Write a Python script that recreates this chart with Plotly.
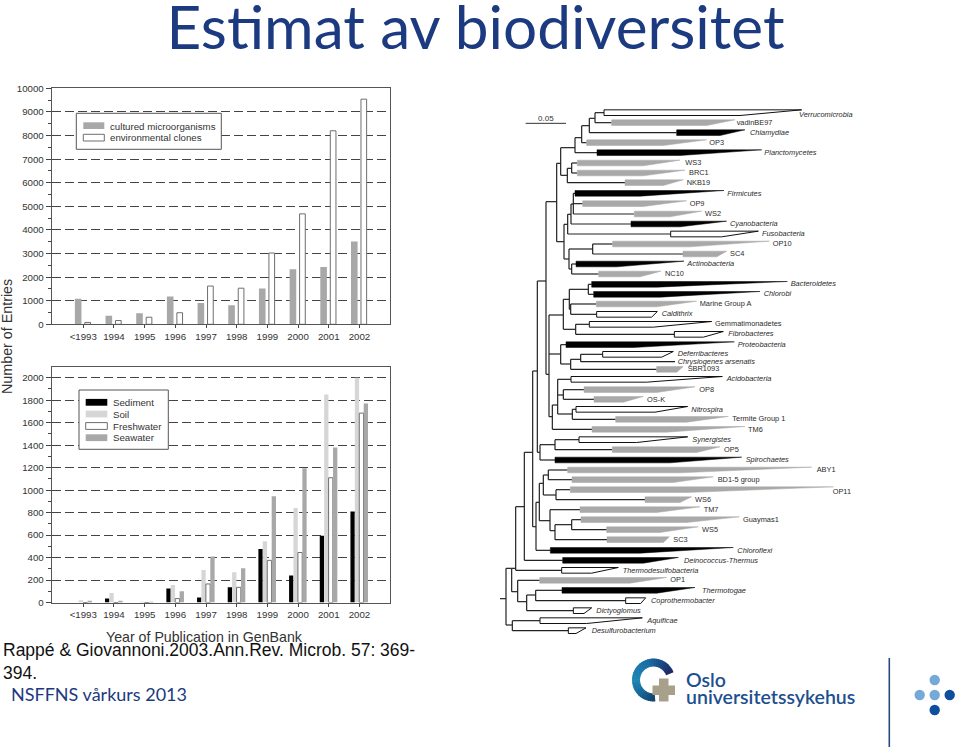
import math
import plotly.graph_objects as go

W, H = 960, 747

# ---------- bar chart data ----------
years = ["<1993", "1994", "1995", "1996", "1997", "1998", "1999", "2000", "2001", "2002"]
cultured = [1080, 360, 470, 1180, 900, 810, 1520, 2330, 2430, 3510]
clones = [80, 160, 300, 490, 1620, 1530, 3020, 4680, 8200, 9540]
sediment = [0, 35, 0, 125, 45, 135, 475, 240, 595, 810]
soil = [20, 85, 5, 155, 290, 270, 545, 840, 1850, 2000]
freshwater = [0, 0, 0, 35, 165, 135, 375, 445, 1110, 1685]
seawater = [10, 10, 5, 100, 410, 305, 945, 1195, 1380, 1770]

# ---------- tree data: clade, kind, wedge start, knee, tip, row ----------
clades = [
    ("Verrucomicrobia", "w", 312, 720, 905, 38), ("vadinBE97", "g", 335, 620, 705, 68),
    ("Chlamydiae", "b", 530, 660, 735, 98), ("OP3", "g", 260, 490, 620, 128),
    ("Planctomycetes", "b", 291, 540, 785, 158), ("WS3", "g", 232, 430, 540, 189),
    ("BRC1", "g", 232, 430, 555, 219), ("NKB19", "g", 375, 490, 550, 248),
    ("Firmicutes", "b", 225, 420, 672, 280), ("OP9", "g", 248, 430, 560, 311),
    ("WS2", "g", 403, 510, 605, 342), ("Cyanobacteria", "b", 393, 540, 680, 372),
    ("Fusobacteria", "w", 512, 665, 775, 402), ("OP10", "g", 338, 570, 808, 432),
    ("SC4", "g", 549, 650, 680, 462), ("Actinobacteria", "b", 228, 350, 552, 492),
    ("NC10", "g", 296, 420, 483, 522), ("Bacteroidetes", "b", 275, 470, 862, 553),
    ("Chlorobi", "b", 281, 480, 780, 583), ("Marine Group A", "g", 289, 470, 590, 612),
    ("Caldithrix", "w", 290, 455, 472, 643), ("Gemmatimonadetes", "w", 268, 460, 635, 673),
    ("Fibrobacteres", "w", 523, 610, 670, 703), ("Proteobacteria", "b", 198, 400, 703, 734),
    ("Deferribacteres", "w", 308, 485, 520, 763), ("SBR1093", "g", 470, 530, 550, 808),
    ("Acidobacteria", "w", 213, 440, 667, 838), ("OP8", "g", 252, 470, 585, 869),
    ("OS-K", "g", 282, 370, 430, 898), ("Nitrospira", "w", 228, 465, 563, 928),
    ("Termite Group 1", "g", 347, 560, 685, 958), ("TM6", "g", 276, 500, 735, 988),
    ("Synergistes", "w", 237, 410, 563, 1019), ("OP5", "g", 337, 590, 660, 1049),
    ("Spirochaetes", "b", 165, 510, 725, 1080), ("ABY1", "g", 203, 540, 935, 1110),
    ("BD1-5 group", "g", 216, 520, 640, 1139), ("OP11", "g", 211, 560, 1000, 1169),
    ("WS6", "g", 435, 540, 575, 1199), ("TM7", "g", 240, 470, 600, 1229),
    ("Guaymas1", "g", 243, 560, 718, 1259), ("WS5", "g", 320, 480, 595, 1289),
    ("SC3", "g", 321, 490, 508, 1319), ("Chloroflexi", "b", 151, 420, 700, 1351),
    ("Deinococcus-Thermus", "b", 188, 430, 535, 1381), ("Thermodesulfobacteria", "w", 185, 275, 355, 1411),
    ("OP1", "g", 119, 390, 500, 1441), ("Thermotogae", "b", 186, 470, 585, 1471),
    ("Coprothermobacter", "w", 377, 422, 437, 1502), ("Dictyoglomus", "w", 220, 252, 275, 1532),
    ("Aquificae", "w", 120, 260, 427, 1562), ("Desulfurobacterium", "w", 205, 228, 258, 1592),
]
# a clade with a bare branch and no wedge
bare_clade = ("Chrysiogenes arsenatis", 525, 785)

# label anchor: name -> (x, y)
label_pos = {
    "Verrucomicrobia": (897, 45), "vadinBE97": (710, 69), "Chlamydiae": (750, 98), "OP3": (628, 128),
    "Planctomycetes": (793, 159), "WS3": (556, 188), "BRC1": (567, 218), "NKB19": (560, 248),
    "Firmicutes": (682, 281), "OP9": (569, 312), "WS2": (615, 343), "Cyanobacteria": (690, 372),
    "Fusobacteria": (786, 402), "OP10": (818, 431), "SC4": (690, 461), "Actinobacteria": (562, 491),
    "NC10": (495, 521), "Bacteroidetes": (872, 553), "Chlorobi": (791, 583), "Marine Group A": (599, 612),
    "Caldithrix": (485, 643), "Gemmatimonadetes": (645, 673), "Fibrobacteres": (685, 703),
    "Proteobacteria": (713, 734), "Deferribacteres": (533, 763), "Chrysiogenes arsenatis": (533, 785),
    "SBR1093": (563, 808), "Acidobacteria": (680, 838), "OP8": (598, 869), "OS-K": (441, 899),
    "Nitrospira": (574, 929), "Termite Group 1": (697, 958), "TM6": (744, 989), "Synergistes": (577, 1019),
    "OP5": (672, 1049), "Spirochaetes": (737, 1080), "ABY1": (950, 1109), "BD1-5 group": (653, 1139),
    "OP11": (998, 1177), "WS6": (585, 1199), "TM7": (611, 1229), "Guaymas1": (729, 1259),
    "WS5": (606, 1289), "SC3": (520, 1321), "Chloroflexi": (712, 1352), "Deinococcus-Thermus": (552, 1382),
    "Thermodesulfobacteria": (368, 1412), "OP1": (511, 1441), "Thermotogae": (606, 1472),
    "Coprothermobacter": (453, 1502), "Dictyoglomus": (289, 1532), "Aquificae": (442, 1562),
    "Desulfurobacterium": (275, 1592),
}
roman_names = {
    "vadinBE97", "OP3", "WS3", "BRC1", "NKB19", "OP9", "WS2", "OP10", "SC4", "NC10", "Marine Group A",
    "Gemmatimonadetes", "SBR1093", "OP8", "OS-K", "Termite Group 1", "TM6", "OP5", "ABY1", "BD1-5 group",
    "OP11", "WS6", "TM7", "Guaymas1", "WS5", "SC3", "OP1",
}

# tree: (node x, node y, children); a string child is a clade name
tree = (0, 1496, [(18, 1496, [
    (35, 1405, [
        (47, 1405, [
            (73, 1220, [
                (98, 1057, [
                    (112, 813, [
                        (138, 543, [
                            (170, 305, [
                                (182, 190, [
                                    (225, 143, [
                                        (245, 113, [
                                            (268, 77, [(285, 55, ["Verrucomicrobia", "vadinBE97"]), "Chlamydiae"]),
                                            "OP3"]),
                                        "Planctomycetes"]),
                                    (202, 226, [(215, 205, ["WS3", "BRC1"]), "NKB19"]),
                                ]),
                                (192, 425, [
                                    (203, 373, [(213, 343, [(220, 312, ["Firmicutes", "OP9", "WS2"]), "Cyanobacteria"]),
                                                "Fusobacteria"]),
                                    (207, 477, [(278, 447, ["OP10", "SC4"]), (215, 507, ["Actinobacteria", "NC10"])]),
                                ]),
                            ]),
                            (147, 823, [
                                (190, 645, [
                                    (208, 598, [(265, 568, ["Bacteroidetes", "Chlorobi"]),
                                                (212, 628, ["Marine Group A", "Caldithrix"])]),
                                    (227, 688, ["Gemmatimonadetes", "Fibrobacteres"]),
                                ]),
                                (182, 762, ["Proteobacteria",
                                            (212, 792, [(242, 778, ["Deferribacteres", "Chrysiogenes arsenatis"]),
                                                        "SBR1093"])]),
                                (157, 950, [
                                    (173, 915, ["Acidobacteria", (190, 885, ["OP8", "OS-K"]),
                                                (217, 942, ["Nitrospira", "Termite Group 1"])]),
                                    "TM6"]),
                            ]),
                        ]),
                        (120, 1057, [(165, 1034, ["Synergistes", "OP5"]), "Spirochaetes"]),
                    ]),
                    (108, 1280, [
                        (118, 1207, [
                            (130, 1150, [(145, 1125, ["ABY1", "BD1-5 group"]), (168, 1185, ["OP11", "WS6"])]),
                            (150, 1262, ["TM7", (165, 1292, [(215, 1274, ["Guaymas1", "WS5"]), "SC3"])]),
                        ]),
                        "Chloroflexi"]),
                ]),
                "Deinococcus-Thermus"]),
            "Thermodesulfobacteria"]),
        (53, 1475, ["OP1", (80, 1505, [(107, 1485, ["Thermotogae", "Coprothermobacter"]), "Dictyoglomus"])]),
    ]),
    (37, 1575, ["Aquificae", "Desulfurobacterium"]),
])])

scale_bar_x = [77, 198]
scale_bar_y = [70, 70]
scale_bar_label = "0.05"

# ---------- styling ----------
ARIAL = "Liberation Sans, Arial, sans-serif"
GREY_BAR = "#a8a8a8"
OUTLINE = "#6e6e6e"
INK = "#333333"
NAVY = "#1c3a80"


def dom_x(a, b):
    return [a / W, b / W]


def dom_y(top, bottom):
    return [1 - bottom / H, 1 - top / H]


fig = go.Figure()
idx = list(range(len(years)))

fig.add_trace(go.Bar(x=idx, y=cultured, name="cultured microorganisms", xaxis="x", yaxis="y",
                     width=0.215, offset=-0.275, marker=dict(color=GREY_BAR, line=dict(width=0))))
fig.add_trace(go.Bar(x=idx, y=clones, name="environmental clones", xaxis="x", yaxis="y",
                     width=0.185, offset=0.05, marker=dict(color="white", line=dict(color=OUTLINE, width=1))))

for nm, vals, col, ln in [
    ("Sediment", sediment, "#000000", 0), ("Soil", soil, "#d6d6d6", 0),
    ("Freshwater", freshwater, "#ffffff", 1), ("Seawater", seawater, GREY_BAR, 0),
]:
    off = {"Sediment": -0.293, "Soil": -0.15, "Freshwater": -0.005, "Seawater": 0.14}[nm]
    fig.add_trace(go.Bar(x=idx, y=vals, name=nm, xaxis="x2", yaxis="y2", width=0.14, offset=off,
                         marker=dict(color=col, line=dict(color=OUTLINE, width=ln))))

# tree branches
row_of = {c[0]: (c[2], c[5]) for c in clades}
row_of[bare_clade[0]] = (bare_clade[1], bare_clade[2])
bx, by = [], []


def walk(node, parent_x):
    if isinstance(node, str):
        x, y = row_of[node]
        bx.extend([parent_x, x, None])
        by.extend([y, y, None])
        return y
    x, y, kids = node
    if parent_x is not None:
        bx.extend([parent_x, x, None])
        by.extend([y, y, None])
    ys = [walk(k, x) for k in kids] + [y]
    bx.extend([x, x, None])
    by.extend([min(ys), max(ys), None])
    return y


walk(tree, None)
fig.add_trace(go.Scatter(x=bx, y=by, mode="lines", xaxis="x3", yaxis="y3", name="branches", showlegend=False,
                         line=dict(color="#222222", width=1.2), hoverinfo="skip"))

for kind, fillc, linec, lw in [("g", "#a9a9a9", "#a9a9a9", 0.5), ("b", "#000000", "#000000", 0.5),
                               ("w", "#ffffff", "#111111", 1)]:
    wx, wy = [], []
    for nm, k, x0, knee, tip, row in clades:
        if k == kind:
            wx += [x0, tip, knee, x0, x0, None]
            wy += [row - 8.5, row - 8.5, row + 8.5, row + 8.5, row - 8.5, None]
    fig.add_trace(go.Scatter(x=wx, y=wy, mode="lines", fill="toself", fillcolor=fillc, xaxis="x3", yaxis="y3",
                             line=dict(color=linec, width=lw), showlegend=False, hoverinfo="skip", name=kind))

fig.add_trace(go.Scatter(x=scale_bar_x, y=scale_bar_y, mode="lines", xaxis="x3", yaxis="y3", showlegend=False,
                         line=dict(color="#333333", width=1), hoverinfo="skip", name="scale"))

names = list(label_pos)
fig.add_trace(go.Scatter(
    x=[label_pos[n][0] for n in names], y=[label_pos[n][1] for n in names],
    text=[n if n in roman_names else f"<i>{n}</i>" for n in names],
    mode="text", textposition="middle right", xaxis="x3", yaxis="y3", showlegend=False, hoverinfo="skip",
    cliponaxis=False, textfont=dict(family=ARIAL, size=7.4, color="#2a2a2a"), name="clades"))
fig.add_trace(go.Scatter(x=[(scale_bar_x[0] + scale_bar_x[1]) / 2], y=[58], text=[scale_bar_label], mode="text",
                         xaxis="x3", yaxis="y3", showlegend=False, hoverinfo="skip", cliponaxis=False,
                         textfont=dict(family=ARIAL, size=8, color="#333333"), name="scale label"))

# overlay: page-sized axis for slide furniture
fig.add_trace(go.Scatter(x=[None], y=[None], xaxis="x4", yaxis="y4", showlegend=False))

shapes = []


def rect(x0, y0, x1, y1, fill, line="rgba(0,0,0,0)", width=0):
    shapes.append(dict(type="rect", xref="x4", yref="y4", x0=x0, y0=y0, x1=x1, y1=y1, fillcolor=fill,
                       line=dict(color=line, width=width), layer="above"))


# legends
rect(76.3, 113.3, 221.3, 149.3, "white", "#555555", 1)
rect(83.3, 122.3, 104.3, 129, GREY_BAR)
rect(83.3, 134.3, 104.3, 141, "white", OUTLINE, 1)
rect(79, 390, 168.3, 449.3, "white", "#555555", 1)
for yy, c, lw in [(402.3, "#000000", 0), (414, "#d6d6d6", 0), (426, "#ffffff", 1), (437.7, GREY_BAR, 0)]:
    rect(85.7, yy - 3.4, 107.3, yy + 3.4, c, OUTLINE if lw else "rgba(0,0,0,0)", lw)

# logo: ring
cx, cy, ro, ri = 653.5, 680, 21.5, 13.5
stops = [(21, (28, 40, 96)), (60, (26, 70, 130)), (110, (26, 110, 165)), (180, (30, 135, 180)),
         (230, (22, 100, 150)), (268, (20, 70, 110))]


def ring_color(a):
    for (a0, c0), (a1, c1) in zip(stops, stops[1:]):
        if a0 <= a <= a1:
            t = (a - a0) / (a1 - a0)
            return "rgb(%d,%d,%d)" % tuple(c0[i] + (c1[i] - c0[i]) * t for i in range(3))
    return "rgb(20,70,110)"


seg = 6
for a in range(21, 268, seg):
    pts = []
    for ang, r in [(a, ro), (a + seg + 2, ro), (a + seg + 2, ri), (a, ri)]:
        pts.append((cx + r * math.cos(math.radians(ang)), cy - r * math.sin(math.radians(ang))))
    path = "M" + " L".join(f"{p[0]:.2f},{p[1]:.2f}" for p in pts) + " Z"
    shapes.append(dict(type="path", xref="x4", yref="y4", path=path, fillcolor=ring_color(a + seg / 2),
                       line=dict(width=0), layer="above"))
# logo: cross
rect(652.5, 685.5, 675, 695, "#a8a08b")
rect(659, 678.5, 668.5, 701.5, "#a8a08b")
# divider
shapes.append(dict(type="line", xref="x4", yref="y4", x0=889.3, x1=889.3, y0=658, y1=747,
                   line=dict(color="#2b4a80", width=1.6), layer="above"))
# dots
for dx, dy, c in [(934.7, 680, "#74a9d8"), (919.7, 695, "#74a9d8"), (934.7, 695, "#74a9d8"),
                  (949.7, 695, "#0d4f9e"), (934.7, 710, "#0d4f9e")]:
    shapes.append(dict(type="circle", xref="x4", yref="y4", x0=dx - 5.2, x1=dx + 5.2, y0=dy - 5.2, y1=dy + 5.2,
                       fillcolor=c, line=dict(width=0), layer="above"))

annotations = []


def note(x, y, text, size, color=INK, family=ARIAL, xanchor="left", angle=0, weight=None, align="left"):
    f = dict(family=family, size=size, color=color)
    if weight:
        f["weight"] = weight
    annotations.append(dict(x=x, y=y, xref="x4", yref="y4", text=text, showarrow=False, xanchor=xanchor,
                            yanchor="middle", font=f, textangle=angle, align=align, borderpad=0, borderwidth=0))


note(109.7, 126, "cultured microorganisms", 9.7)
note(109.7, 137.7, "environmental clones", 9.7)
note(112.7, 402.3, "Sediment", 9.7)
note(112.7, 414, "Soil", 9.7)
note(112.7, 426, "Freshwater", 9.7)
note(112.7, 437.7, "Seawater", 9.7)
note(7, 337, "Number of Entries", 14.3, xanchor="center", angle=-90)
note(204, 637, "Year of Publication in GenBank", 14.2, xanchor="center")
note(3, 661, "Rappé &amp; Giovannoni.2003.Ann.Rev. Microb. 57: 369-<br>394.", 17.5, color="#111111")
note(11, 694, "NSFFNS vårkurs 2013", 18, color=NAVY, family="Lato, sans-serif")
note(686, 679, "Oslo", 19.5, color="#1d4f8f", family="Lato, sans-serif", weight=600)
note(686, 696, "universitetssykehus", 19.5, color="#1d4f8f", family="Lato, sans-serif", weight=600)

axis_common = dict(showline=True, linecolor="#555555", linewidth=1, mirror=True, zeroline=False,
                   tickfont=dict(family=ARIAL, size=9.7, color=INK), tickcolor="#444444", ticks="outside")
grid = dict(showgrid=True, gridcolor="#444444", gridwidth=1, griddash="9px,4px")

x_range = [-1.03, 9.98]
fig.update_layout(
    width=W, height=H, autosize=False, margin=dict(l=0, r=0, t=0, b=0, autoexpand=False),
    paper_bgcolor="white", plot_bgcolor="rgba(0,0,0,0)", barmode="overlay", showlegend=False,
    title=dict(text="Estimat av biodiversitet", x=475.5 / W, xanchor="center", y=1 - 28 / H,
               yanchor="middle", font=dict(family="Lato, sans-serif", size=60.3, color=NAVY)),
    xaxis=dict(domain=dom_x(51.7, 389.5), range=x_range, anchor="y", tickvals=idx, ticktext=years, ticklen=3,
               **axis_common),
    yaxis=dict(domain=dom_y(88.3, 324.3), range=[0, 10000], anchor="x", tickvals=list(range(0, 10001, 1000)),
               tickformat="d", ticklen=5, minor=dict(tickvals=list(range(500, 10000, 1000)), ticks="outside",
                                                     ticklen=3, tickcolor="#444444"), **axis_common, **grid),
    xaxis2=dict(domain=dom_x(51.7, 389.5), range=x_range, anchor="y2", tickvals=idx, ticktext=years, ticklen=3,
                **axis_common),
    yaxis2=dict(domain=dom_y(366.7, 602.5), range=[0, 2098], anchor="x2", tickvals=list(range(0, 2001, 200)),
                tickformat="d", ticklen=5, minor=dict(tickvals=list(range(100, 2001, 200)), ticks="outside",
                                                      ticklen=3, tickcolor="#444444"), **axis_common, **grid),
    xaxis3=dict(domain=dom_x(500, 860), range=[0, 1080], anchor="y3", visible=False),
    yaxis3=dict(domain=dom_y(100, 645), range=[1635, 0], anchor="x3", visible=False),
    xaxis4=dict(domain=[0, 1], range=[0, W], anchor="y4", visible=False),
    yaxis4=dict(domain=[0, 1], range=[H, 0], anchor="x4", visible=False),
    shapes=shapes, annotations=annotations,
)

fig.write_html("out.html", config={"displayModeBar": False},
               post_script="document.body.style.margin='0';document.body.style.overflow='hidden';")
